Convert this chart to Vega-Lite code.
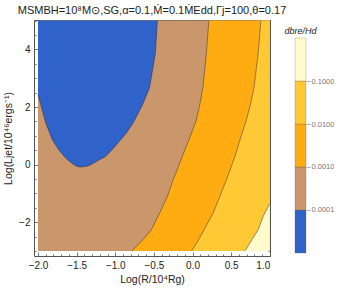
{
  "$schema": "https://vega.github.io/schema/vega-lite/v6.json",
  "background": "white",
  "padding": {"left": 3, "top": 4, "right": 0, "bottom": 0},
  "config": {
    "view": {"stroke": null},
    "font": "Liberation Sans",
    "axis": {"labelFont": "Liberation Sans", "labelFontSize": 10, "labelColor": "#222", "tickColor": "#555", "tickWidth": 0.8, "domain": false, "grid": false, "titleFont": "Liberation Sans", "titleFontSize": 10.5, "titleFontWeight": "normal", "titleColor": "#222"},
    "title": {"font": "Liberation Sans", "fontWeight": "normal", "color": "#222"}
  },
  "datasets": {
    "rect": [{"x": -2.0, "x2": 1.0, "y": -3.0, "y2": 5.0}],
    "orange": [
      {"y": -3.0, "x": -0.785, "x2": 1.0},
      {"y": -2.837, "x": -0.727, "x2": 1.0},
      {"y": -2.6, "x": -0.64, "x2": 1.0},
      {"y": -2.257, "x": -0.532, "x2": 1.0},
      {"y": -1.677, "x": -0.424, "x2": 1.0},
      {"y": -1.1, "x": -0.325, "x2": 1.0},
      {"y": -0.521, "x": -0.251, "x2": 1.0},
      {"y": -0.288, "x": -0.215, "x2": 1.0},
      {"y": 0.3, "x": -0.13, "x2": 1.0},
      {"y": 0.868, "x": -0.045, "x2": 1.0},
      {"y": 1.56, "x": 0.051, "x2": 1.0},
      {"y": 2.15, "x": 0.1, "x2": 1.0},
      {"y": 2.72, "x": 0.137, "x2": 1.0},
      {"y": 3.878, "x": 0.18, "x2": 1.0},
      {"y": 5.0, "x": 0.211, "x2": 1.0}
    ],
    "light": [
      {"y": -3.0, "x": -0.012, "x2": 1.0},
      {"y": -2.6, "x": 0.08, "x2": 1.0},
      {"y": -2.257, "x": 0.15, "x2": 1.0},
      {"y": -1.677, "x": 0.267, "x2": 1.0},
      {"y": -1.1, "x": 0.354, "x2": 1.0},
      {"y": -0.521, "x": 0.439, "x2": 1.0},
      {"y": -0.288, "x": 0.472, "x2": 1.0},
      {"y": 0.3, "x": 0.55, "x2": 1.0},
      {"y": 0.868, "x": 0.615, "x2": 1.0},
      {"y": 1.56, "x": 0.698, "x2": 1.0},
      {"y": 2.15, "x": 0.755, "x2": 1.0},
      {"y": 2.72, "x": 0.798, "x2": 1.0},
      {"y": 3.878, "x": 0.85, "x2": 1.0},
      {"y": 5.0, "x": 0.885, "x2": 1.0}
    ],
    "pale": [
      {"y": -3.0, "x": 0.677, "x2": 1.0},
      {"y": -2.6, "x": 0.77, "x2": 1.0},
      {"y": -2.257, "x": 0.85, "x2": 1.0},
      {"y": -1.795, "x": 0.915, "x2": 1.0},
      {"y": -1.35, "x": 1.0, "x2": 1.0}
    ],
    "blue": [
      {"y": -0.08, "x": -1.447, "x2": -1.447},
      {"y": -0.07, "x": -1.478, "x2": -1.405},
      {"y": -0.055, "x": -1.496, "x2": -1.378},
      {"y": -0.035, "x": -1.512, "x2": -1.349},
      {"y": 0.0, "x": -1.534, "x2": -1.317},
      {"y": 0.12, "x": -1.595, "x2": -1.24},
      {"y": 0.288, "x": -1.663, "x2": -1.123},
      {"y": 0.55, "x": -1.74, "x2": -1.03},
      {"y": 0.868, "x": -1.815, "x2": -0.929},
      {"y": 1.1, "x": -1.849, "x2": -0.856},
      {"y": 1.448, "x": -1.9, "x2": -0.77},
      {"y": 2.01, "x": -1.957, "x2": -0.66},
      {"y": 2.43, "x": -2.0, "x2": -0.593},
      {"y": 2.674, "x": -2.0, "x2": -0.556},
      {"y": 3.878, "x": -2.0, "x2": -0.481},
      {"y": 5.0, "x": -2.0, "x2": -0.455}
    ],
    "blueline": [
      {"o": 1, "x": -2.0, "y": 2.43},
      {"o": 2, "x": -1.957, "y": 2.01},
      {"o": 3, "x": -1.9, "y": 1.448},
      {"o": 4, "x": -1.849, "y": 1.1},
      {"o": 5, "x": -1.815, "y": 0.868},
      {"o": 6, "x": -1.74, "y": 0.55},
      {"o": 7, "x": -1.663, "y": 0.288},
      {"o": 8, "x": -1.595, "y": 0.12},
      {"o": 9, "x": -1.534, "y": 0.0},
      {"o": 10, "x": -1.512, "y": -0.035},
      {"o": 11, "x": -1.496, "y": -0.055},
      {"o": 12, "x": -1.478, "y": -0.07},
      {"o": 13, "x": -1.447, "y": -0.08},
      {"o": 14, "x": -1.405, "y": -0.07},
      {"o": 15, "x": -1.378, "y": -0.055},
      {"o": 16, "x": -1.349, "y": -0.035},
      {"o": 17, "x": -1.317, "y": 0.0},
      {"o": 18, "x": -1.24, "y": 0.12},
      {"o": 19, "x": -1.123, "y": 0.288},
      {"o": 20, "x": -1.03, "y": 0.55},
      {"o": 21, "x": -0.929, "y": 0.868},
      {"o": 22, "x": -0.856, "y": 1.1},
      {"o": 23, "x": -0.77, "y": 1.448},
      {"o": 24, "x": -0.66, "y": 2.01},
      {"o": 25, "x": -0.593, "y": 2.43},
      {"o": 26, "x": -0.556, "y": 2.674},
      {"o": 27, "x": -0.481, "y": 3.878},
      {"o": 28, "x": -0.455, "y": 5.0}
    ],
    "legend": [
      {"level": "a", "lo": 0.00001, "hi": 0.0001},
      {"level": "b", "lo": 0.0001, "hi": 0.001},
      {"level": "c", "lo": 0.001, "hi": 0.01},
      {"level": "d", "lo": 0.01, "hi": 0.1},
      {"level": "e", "lo": 0.1, "hi": 1.0}
    ]
  },
  "bounds": "flush",
  "spacing": 25,
  "hconcat": [
    {
      "width": 236,
      "height": 236,
      "view": {"stroke": "#555", "strokeWidth": 1},
      "title": {"text": "MSMBH=10⁸M⊙,SG,α=0.1,Ṁ=0.1ṀEdd,Γj=100,θ=0.17", "fontSize": 11, "offset": 3, "frame": "group"},
      "resolve": {"axis": {"x": "independent", "y": "independent"}},
      "layer": [
        {
          "data": {"name": "rect"},
          "mark": {"type": "rect", "color": "#C9976B"},
          "encoding": {
            "x": {"field": "x", "type": "quantitative", "scale": {"domain": [-2.052, 1.003], "nice": false, "zero": false},
              "axis": {"orient": "bottom", "title": "Log(R/10⁴Rg)", "titlePadding": 4,
                "values": [-2.0,-1.9,-1.8,-1.7,-1.6,-1.5,-1.4,-1.3,-1.2,-1.1,-1.0,-0.9,-0.8,-0.7,-0.6,-0.5,-0.4,-0.3,-0.2,-0.1,0.0,0.1,0.2,0.3,0.4,0.5,0.6,0.7,0.8,0.9,1.0],
                "labelExpr": "abs(datum.value*2 - round(datum.value*2)) < 0.001 ? format(datum.value, '.1f') : ''",
                "tickSize": {"condition": {"test": "abs(datum.value*2 - round(datum.value*2)) < 0.001", "value": -4}, "value": -2},
                "labelPadding": 8}},
            "x2": {"field": "x2"},
            "y": {"field": "y", "type": "quantitative", "scale": {"domain": [-3.17, 5.02], "nice": false, "zero": false},
              "axis": {"orient": "left", "title": "Log(Ljet/10⁴⁶ergs⁻¹)", "titlePadding": 5,
                "values": [-3,-2.5,-2,-1.5,-1,-0.5,0,0.5,1,1.5,2,2.5,3,3.5,4,4.5,5],
                "labelExpr": "abs(datum.value/2 - round(datum.value/2)) < 0.001 ? format(datum.value, 'd') : ''",
                "tickSize": {"condition": {"test": "abs(datum.value/2 - round(datum.value/2)) < 0.001", "value": -4}, "value": -2},
                "labelPadding": 8}},
            "y2": {"field": "y2"}
          }
        },
        {
          "data": {"name": "orange"},
          "mark": {"type": "area", "orient": "horizontal", "color": "#FFAB12"},
          "encoding": {
            "y": {"field": "y", "type": "quantitative",
              "axis": {"orient": "right", "title": null, "labels": false,
                "values": [-3,-2.5,-2,-1.5,-1,-0.5,0,0.5,1,1.5,2,2.5,3,3.5,4,4.5,5],
                "tickSize": {"condition": {"test": "abs(datum.value/2 - round(datum.value/2)) < 0.001", "value": -4}, "value": -2}}},
            "x": {"field": "x", "type": "quantitative",
              "axis": {"orient": "top", "title": null, "labels": false,
                "values": [-2.0,-1.9,-1.8,-1.7,-1.6,-1.5,-1.4,-1.3,-1.2,-1.1,-1.0,-0.9,-0.8,-0.7,-0.6,-0.5,-0.4,-0.3,-0.2,-0.1,0.0,0.1,0.2,0.3,0.4,0.5,0.6,0.7,0.8,0.9,1.0],
                "tickSize": {"condition": {"test": "abs(datum.value*2 - round(datum.value*2)) < 0.001", "value": -4}, "value": -2}}},
            "x2": {"field": "x2"}
          }
        },
        {
          "data": {"name": "light"},
          "mark": {"type": "area", "orient": "horizontal", "color": "#FFC935"},
          "encoding": {
            "y": {"field": "y", "type": "quantitative", "axis": null},
            "x": {"field": "x", "type": "quantitative", "axis": null},
            "x2": {"field": "x2"}
          }
        },
        {
          "data": {"name": "pale"},
          "mark": {"type": "area", "orient": "horizontal", "color": "#FFFCCB"},
          "encoding": {
            "y": {"field": "y", "type": "quantitative", "axis": null},
            "x": {"field": "x", "type": "quantitative", "axis": null},
            "x2": {"field": "x2"}
          }
        },
        {
          "data": {"name": "blue"},
          "mark": {"type": "area", "orient": "horizontal", "color": "#2F63C9"},
          "encoding": {
            "y": {"field": "y", "type": "quantitative", "axis": null},
            "x": {"field": "x", "type": "quantitative", "axis": null},
            "x2": {"field": "x2"}
          }
        },
        {
          "data": {"name": "orange"},
          "mark": {"type": "line", "color": "#4a3f30", "strokeWidth": 0.7, "opacity": 0.8},
          "encoding": {
            "y": {"field": "y", "type": "quantitative", "axis": null},
            "x": {"field": "x", "type": "quantitative", "axis": null},
            "order": {"field": "y", "type": "quantitative"}
          }
        },
        {
          "data": {"name": "light"},
          "mark": {"type": "line", "color": "#4a3f30", "strokeWidth": 0.7, "opacity": 0.8},
          "encoding": {
            "y": {"field": "y", "type": "quantitative", "axis": null},
            "x": {"field": "x", "type": "quantitative", "axis": null},
            "order": {"field": "y", "type": "quantitative"}
          }
        },
        {
          "data": {"name": "pale"},
          "mark": {"type": "line", "color": "#4a3f30", "strokeWidth": 0.7, "opacity": 0.8},
          "encoding": {
            "y": {"field": "y", "type": "quantitative", "axis": null},
            "x": {"field": "x", "type": "quantitative", "axis": null},
            "order": {"field": "y", "type": "quantitative"}
          }
        },
        {
          "data": {"name": "blueline"},
          "mark": {"type": "line", "color": "#2a3050", "strokeWidth": 0.7, "opacity": 0.8},
          "encoding": {
            "y": {"field": "y", "type": "quantitative", "axis": null},
            "x": {"field": "x", "type": "quantitative", "axis": null},
            "order": {"field": "o", "type": "quantitative"}
          }
        }
      ]
    },
    {
      "width": 11,
      "height": 236,
      "title": {"text": "dbre/Hd", "fontSize": 9, "fontStyle": "italic", "offset": -16},
      "data": {"name": "legend"},
      "mark": {"type": "rect", "stroke": "#6a5a40", "strokeWidth": 0.4, "strokeOpacity": 0.7},
      "encoding": {
        "y": {"field": "lo", "type": "quantitative",
          "scale": {"type": "log", "domain": [0.00000851, 2.624], "nice": false},
          "axis": {"orient": "right", "title": null, "values": [0.0001, 0.001, 0.01, 0.1], "format": ".4f",
            "labelColor": "#777", "tickColor": "#999", "tickSize": 4, "labelFontSize": 7.5, "labelPadding": 1}},
        "y2": {"field": "hi"},
        "color": {"field": "level", "type": "nominal", "legend": null,
          "scale": {"domain": ["a", "b", "c", "d", "e"], "range": ["#2F63C9", "#C9976B", "#FFAB12", "#FFC935", "#FFFCCB"]}}
      }
    }
  ]
}
